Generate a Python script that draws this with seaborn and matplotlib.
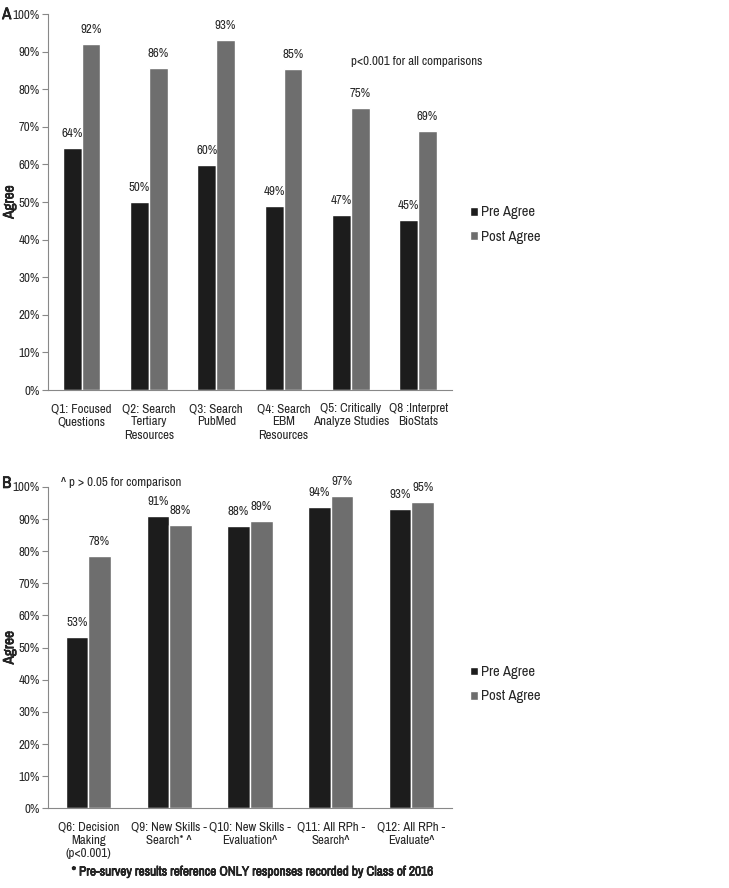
import pandas as pd
import matplotlib
matplotlib.use('Agg')
import matplotlib.pyplot as plt
import matplotlib.patheffects as pe
import seaborn as sns

# Panel A data
qs_a = ['Q1: Focused\nQuestions', 'Q2: Search\nTertiary\nResources', 'Q3: Search\nPubMed',
        'Q4: Search\nEBM\nResources', 'Q5: Critically\nAnalyze Studies', 'Q8 :Interpret\nBioStats']
pre_a = [64.3, 50.0, 59.8, 48.9, 46.6, 45.2]
post_a = [92.0, 85.7, 93.0, 85.3, 75.1, 69.0]

# Panel B data
qs_b = ['Q6: Decision\nMaking\n(p<0.001)', 'Q9: New Skills -\nSearch* ^', 'Q10: New Skills -\nEvaluation^',
        'Q11: All RPh -\nSearch^', 'Q12: All RPh -\nEvaluate^']
pre_b = [53.3, 91.0, 87.7, 93.7, 93.2]
post_b = [78.4, 88.1, 89.4, 97.1, 95.2]

series = ['Pre Agree', 'Post Agree']
colors = ['#1c1c1c', '#6e6e6e']

sns.set_style('white')
# narrow sans like the original (Arial Narrow); first installed one wins
plt.rcParams['font.family'] = ['Liberation Sans Narrow', 'Archivo Narrow', 'PT Sans Narrow',
                               'Roboto Condensed', 'Pragati Narrow', 'Liberation Sans', 'DejaVu Sans']
FS = 9.3
bold = [pe.withStroke(linewidth=0.45, foreground='black')]  # the narrow face has no bold


def long_df(qs, pre, post):
    return pd.DataFrame({'q': qs * 2, 'val': pre + post,
                         'when': [series[0]] * len(qs) + [series[1]] * len(qs)})


def draw(ax, df, qs, legend_y):
    sns.barplot(data=df, x='q', y='val', hue='when', palette=colors, width=0.56,
                saturation=1, ax=ax, legend=True)
    for c in ax.containers:
        ax.bar_label(c, fmt='%.0f%%', padding=6.5, fontsize=FS)
    ax.set_ylim(0, 100)
    ax.set_xlim(-0.5, len(qs) - 0.5)
    ax.set_yticks(range(0, 101, 10))
    ax.set_yticklabels([f'{t}%' for t in range(0, 101, 10)], fontsize=FS)
    ax.set_xticks(range(len(qs)))
    ax.set_xticklabels(qs, fontsize=FS, linespacing=1.25)
    ax.set_xlabel('')
    ax.set_ylabel('Agree', fontsize=11, path_effects=bold)
    ax.yaxis.set_label_coords(-0.078, 0.5)
    for s in ['top', 'right']:
        ax.spines[s].set_visible(False)
    ax.spines['left'].set_color('#888888')
    ax.spines['bottom'].set_color('#888888')
    ax.tick_params(axis='y', left=True, length=4, color='#888888', pad=2)
    ax.tick_params(axis='x', bottom=False, pad=6)
    ax.legend(loc='center left', bbox_to_anchor=(1.03, legend_y), frameon=False, borderaxespad=0,
              handlelength=0.55, handleheight=0.55, handletextpad=0.2, labelspacing=0.7,
              fontsize=10.5)


fig = plt.figure(figsize=(7.29, 8.88), dpi=100)
ax_a = fig.add_axes([0.0658, 0.5608, 0.554, 0.4234])
ax_b = fig.add_axes([0.0658, 0.0897, 0.554, 0.362])

draw(ax_a, long_df(qs_a, pre_a, post_a), qs_a, 0.44)
draw(ax_b, long_df(qs_b, pre_b, post_b), qs_b, 0.386)

ax_a.text(4.0, 87.3, 'p<0.001 for all comparisons', fontsize=FS, va='center')
ax_b.text(-0.34, 101.3, '^ p > 0.05 for comparison', fontsize=FS, va='center', clip_on=False)

fig.text(0.003, 0.992, 'A', fontsize=12, va='top', path_effects=bold)
fig.text(0.003, 0.464, 'B', fontsize=12, va='top', path_effects=bold)
fig.text(0.345, 0.018, '* Pre-survey results reference ONLY responses recorded by Class of 2016',
         fontsize=9.6, ha='center', va='center', path_effects=bold)

fig.savefig('out.png', dpi=100)
